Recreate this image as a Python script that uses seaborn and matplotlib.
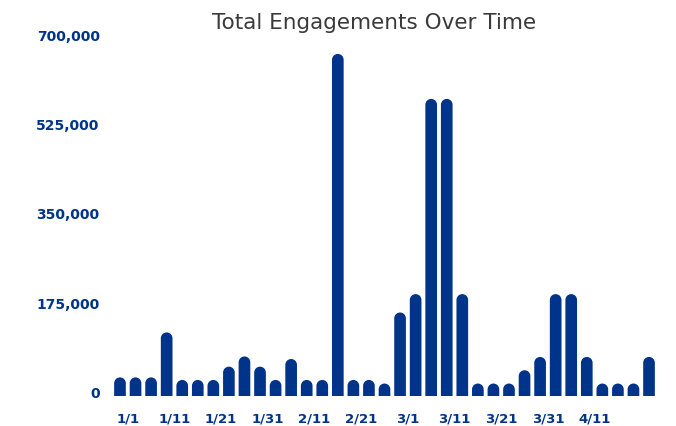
import matplotlib
matplotlib.use("Agg")
import matplotlib.pyplot as plt
from matplotlib.path import Path
from matplotlib.patches import PathPatch
from matplotlib.transforms import ScaledTranslation
import seaborn as sns
import pandas as pd

# Engagement totals per reporting period (35 periods)
period = list(range(35))
engagements = [
    37000, 37000, 37000, 125000, 32000, 32000, 32000, 58000, 78000, 58000,
    32000, 73000, 32000, 32000, 670000, 32000, 32000, 25000, 164000, 200000,
    582000, 582000, 200000, 25000, 25000, 25000, 51000, 77000, 200000, 200000,
    77000, 25000, 25000, 25000, 77000,
]
date_labels = ["1/1", "1/11", "1/21", "1/31", "2/11", "2/21",
               "3/1", "3/11", "3/21", "3/31", "4/11"]
y_ticks = [0, 175000, 350000, 525000, 700000]

NAVY = "#00338a"
W, H, DPI = 676, 427, 100

sns.set_theme(style="white")
plt.rcParams["font.family"] = ["DejaVu Sans"]

df = pd.DataFrame({"period": period, "engagements": engagements})

fig = plt.figure(figsize=(W / DPI, H / DPI), dpi=DPI)
ax = fig.add_axes([112.2 / W, 29.7 / H, 544.6 / W, 357.7 / H])

bar_w = 0.75
sns.barplot(data=df, x="period", y="engagements", color=NAVY, saturation=1,
            width=bar_w, ax=ax)
ax.set_xlim(-0.5, len(period) - 0.5)
ax.set_ylim(0, 700000)

# Replace the square bars with round-topped ones
ax_w_px = 544.6
ax_h_px = 357.7
px_per_x = ax_w_px / len(period)
px_per_y = ax_h_px / 700000
for p in list(ax.patches):
    x0, w, h = p.get_x(), p.get_width(), p.get_height()
    p.set_visible(False)
    rx = w / 2
    ry = (w * px_per_x / 2) / px_per_y
    xc = x0 + rx
    arc = Path.arc(0, 180)
    verts = [(x0 + w, 0), (x0 + w, h - ry)]
    codes = [Path.MOVETO, Path.LINETO]
    for (ux, uy), c in zip(arc.vertices[1:], arc.codes[1:]):
        verts.append((xc + rx * ux, h - ry + ry * uy))
        codes.append(c)
    verts += [(x0, 0), (x0 + w, 0)]
    codes += [Path.LINETO, Path.CLOSEPOLY]
    ax.add_patch(PathPatch(Path(verts, codes), facecolor=NAVY,
                           edgecolor="none", lw=0))

ax.set_xticks([i * 3 + 0.5 for i in range(len(date_labels))])
ax.set_xticklabels(date_labels)
ax.set_yticks(y_ticks)
ax.set_yticklabels([f"{v:,}" for v in y_ticks])
ax.tick_params(axis="x", length=0, pad=11, labelsize=9.5, labelcolor=NAVY)
ax.tick_params(axis="y", length=0, pad=9, labelsize=10, labelcolor=NAVY)
for lab in ax.get_xticklabels() + ax.get_yticklabels():
    lab.set_fontweight("bold")
for lab in ax.get_yticklabels():
    lab.set_transform(lab.get_transform() + ScaledTranslation(0, 4.5 / DPI, fig.dpi_scale_trans))

ax.set_xlabel("")
ax.set_ylabel("")
sns.despine(ax=ax, left=True, bottom=True)
ax.grid(False)

fig.text(374 / W, 1 - 29.3 / H, "Total Engagements Over Time", ha="center",
         va="baseline", fontsize=15.5, color="#3a3a3a",
         family=["DejaVu Sans"], fontweight="normal")

fig.savefig("out.png", dpi=DPI)
